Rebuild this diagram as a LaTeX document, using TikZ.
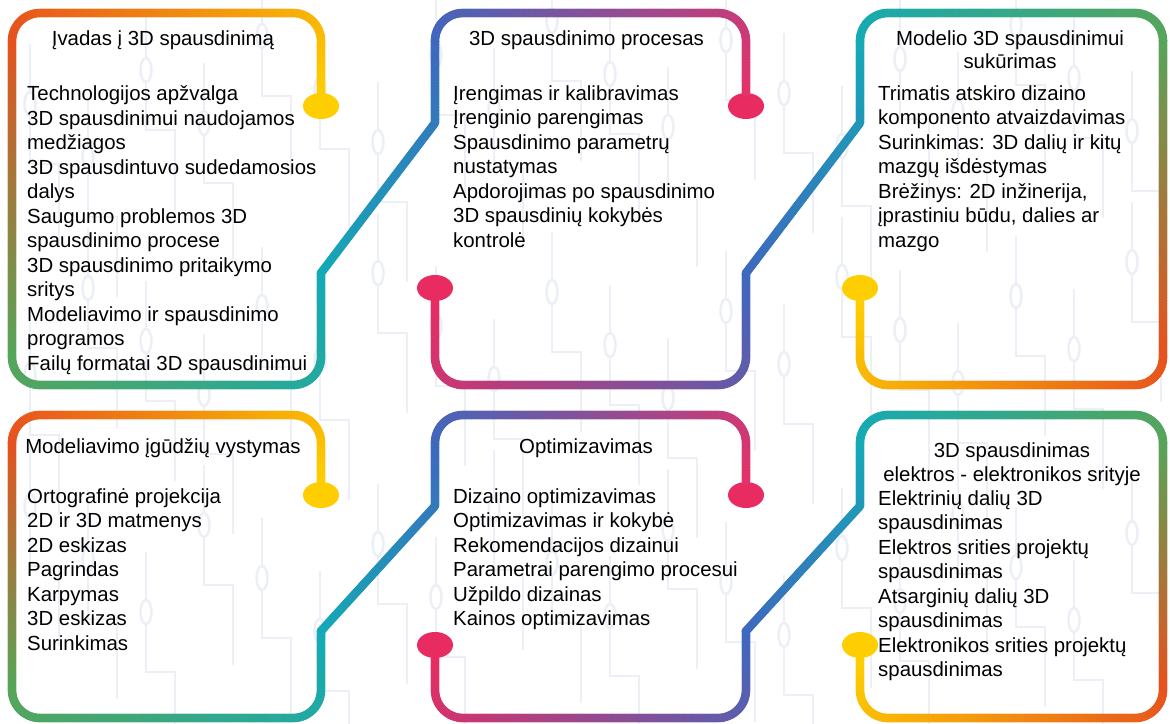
\documentclass[tikz,border=0pt]{standalone}
\usepackage{fontspec}
\setmainfont{Liberation Sans}
\usetikzlibrary{decorations.markings,shapes.geometric}

\definecolor{bgTrace}{RGB}{236,239,246}
\definecolor{dotYellow}{RGB}{254,206,0}
\definecolor{trOrange}{RGB}{230,82,30}
\definecolor{trGreen}{RGB}{86,165,90}
\definecolor{trTeal}{RGB}{20,170,182}
\definecolor{trBlue}{RGB}{62,104,190}
\definecolor{trPink}{RGB}{228,50,106}
\definecolor{dotPink}{RGB}{232,44,98}

\begin{document}
\begin{tikzpicture}[x=1pt, y=-1pt]
    \tikzstyle{dot}=[ellipse, minimum width=36pt, minimum height=26pt, inner sep=0pt]
    \tikzstyle{ring}=[ellipse, draw=bgTrace, line width=2.5pt, fill=white, minimum width=11pt, minimum height=24pt, inner sep=0pt]
    \tikzstyle{title}=[font=\fontsize{20.4}{23.5}\selectfont, align=center, inner sep=0pt, anchor=north]
    \tikzstyle{items}=[font=\fontsize{20.4}{24.5}\selectfont, align=left, inner sep=0pt, anchor=north west]
    \tikzset{trace/.style 2 args={rounded corners=28pt, postaction={decorate, decoration={markings,
        mark=between positions 0 and 1 step 1.5pt with {
            \pgfmathsetmacro\mix{min(100,\pgfkeysvalueof{/pgf/decoration/mark info/distance from start}/\pgfdecoratedpathlength*100)}
            \fill[#2!\mix!#1] (0,0) circle (4.4pt);
        }}}}}

    \fill[white] (0,0) rectangle (1170,723);
    \useasboundingbox (0,0) rectangle (1170,723);

    % faint circuit pattern behind the cards
    \foreach \x [count=\i] in {30,88,...,1170} {
        \foreach \y [count=\j] in {-40,200,440} {
            \pgfmathsetmacro\dy{mod(\i*53+\j*31,140)}
            \draw[bgTrace, line width=2.5pt] (\x,\y+\dy) -- (\x,\y+\dy+120) -- (\x+29,\y+\dy+120) -- (\x+29,\y+\dy+200);
            \node[ring] (R-\i-\j) at (\x,\y+\dy+60) {};
        }
    }

    % two rows of cards, joined by traces
    \foreach \row/\yt/\yb/\yd/\ja/\jb/\yl in {1/13/385/106/123/273/288, 2/415/718/495/506/631/645} {
        \node[dot, fill=dotYellow] (Y1-\row) at (321,\yd) {};
        \node[dot, fill=dotPink] (P1-\row) at (746,\yd) {};
        \node[dot, fill=dotPink] (P2-\row) at (435,\yl) {};
        \node[dot, fill=dotYellow] (Y2-\row) at (860,\yl) {};

        \path[trace={dotYellow}{trOrange}] (Y1-\row) -- (321,\yt) -- (12,\yt) -- (12,\yt+28);
        \path[trace={trOrange}{trGreen}] (12,\yt+28) -- (12,\yb-28);
        \path[trace={trGreen}{trTeal}] (12,\yb-28) -- (12,\yb) -- (321,\yb) -- (321,\jb);
        \path[trace={trTeal}{trBlue}, sharp corners] (321,\jb) -- (435,\ja) -- (435,\yt+28);
        \path[trace={trBlue}{trPink}] (435,\yt+28) -- (435,\yt) -- (746,\yt) -- (P1-\row);

        \path[trace={dotPink}{trBlue}] (P2-\row) -- (435,\yb) -- (746,\yb) -- (746,\jb);
        \path[trace={trBlue}{trTeal}, sharp corners] (746,\jb) -- (860,\ja) -- (860,\yt+28);
        \path[trace={trTeal}{trGreen}] (860,\yt+28) -- (860,\yt) -- (1163,\yt) -- (1163,\yt+28);
        \path[trace={trGreen}{trOrange}] (1163,\yt+28) -- (1163,\yb-28);
        \path[trace={trOrange}{dotYellow}] (1163,\yb-28) -- (1163,\yb) -- (860,\yb) -- (Y2-\row);
    }

    % top row
    \node[title] (introTitle) at (163,30.5) {Įvadas į 3D spausdinimą};
    \node[items] (introList) at (27,85.5) {Technologijos apžvalga\\
        3D spausdinimui naudojamos\\ medžiagos\\
        3D spausdintuvo sudedamosios\\ dalys\\
        Saugumo problemos 3D\\ spausdinimo procese\\
        3D spausdinimo pritaikymo\\ sritys\\
        Modeliavimo ir spausdinimo\\ programos\\
        Failų formatai 3D spausdinimui};

    \node[title] (processTitle) at (586.5,30.5) {3D spausdinimo procesas};
    \node[items] (processList) at (453,85.5) {Įrengimas ir kalibravimas\\
        Įrenginio parengimas\\
        Spausdinimo parametrų\\ nustatymas\\
        Apdorojimas po spausdinimo\\
        3D spausdinių kokybės\\ kontrolė};

    \node[title] (modelTitle) at (1010,30.5) {Modelio 3D spausdinimui\\ sukūrimas};
    \node[items] (modelList) at (878,85.5) {Trimatis atskiro dizaino\\
        komponento atvaizdavimas\\
        Surinkimas: 3D dalių ir kitų\\ mazgų išdėstymas\\
        Brėžinys: 2D inžinerija,\\ įprastiniu būdu, dalies ar\\ mazgo};

    % bottom row
    \node[title] (skillsTitle) at (163,438.5) {Modeliavimo įgūdžių vystymas};
    \node[items] (skillsList) at (27,488.5) {Ortografinė projekcija\\
        2D ir 3D matmenys\\ 2D eskizas\\ Pagrindas\\ Karpymas\\ 3D eskizas\\ Surinkimas};

    \node[title] (optimTitle) at (586,438.5) {Optimizavimas};
    \node[items] (optimList) at (453,488.5) {Dizaino optimizavimas\\
        Optimizavimas ir kokybė\\
        Rekomendacijos dizainui\\
        Parametrai parengimo procesui\\
        Užpildo dizainas\\
        Kainos optimizavimas};

    \node[title] (electroTitle) at (1012,443) {3D spausdinimas\\ elektros - elektronikos srityje};
    \node[items] (electroList) at (878,490.5) {Elektrinių dalių 3D\\ spausdinimas\\
        Elektros srities projektų\\ spausdinimas\\
        Atsarginių dalių 3D\\ spausdinimas\\
        Elektronikos srities projektų\\ spausdinimas};
\end{tikzpicture}
\end{document}
